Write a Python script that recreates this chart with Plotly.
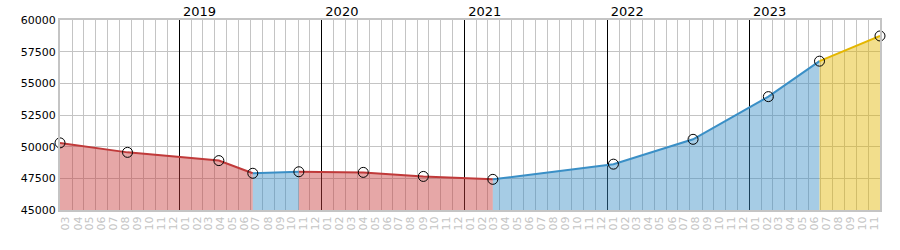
import plotly.graph_objects as go

# Data points (date, value)
dates = ["2018-03-01", "2018-08-21", "2019-04-12", "2019-07-08", "2019-11-03",
         "2020-04-16", "2020-09-17", "2021-03-14", "2022-01-17", "2022-08-09",
         "2023-02-18", "2023-06-29", "2023-12-01"]
values = [50300, 49550, 48900, 47900, 48020, 47970, 47650, 47420, 48620, 50580,
          53950, 56750, 58740]

# Segments: (start index, end index, colour key)
segments = [(0, 3, "red"), (3, 4, "blue"), (4, 7, "red"), (7, 11, "blue"), (11, 12, "yellow")]
years = [2019, 2020, 2021, 2022, 2023]
y_ticks = [45000, 47500, 50000, 52500, 55000, 57500, 60000]

# Month tick labels, 2018-03 .. 2023-11 (placed mid-month)
month_ticks = []
for yr in range(2018, 2024):
    for mo in range(1, 13):
        if (yr, mo) < (2018, 3) or (yr, mo) > (2023, 11):
            continue
        month_ticks.append((f"{yr}-{mo:02d}-16", f"{mo:02d}"))
tick_vals = [t[0] for t in month_ticks]
tick_text = [t[1] for t in month_ticks]

x_range = ["2018-03-01", "2023-12-01"]

line_col = {"red": "rgb(192,58,58)", "blue": "rgb(58,143,198)", "yellow": "rgb(228,182,0)"}
fill_col = {"red": "rgba(200,60,60,0.45)", "blue": "rgba(58,143,198,0.45)",
            "yellow": "rgba(226,182,0,0.45)"}

fig = go.Figure()
for s, e, c in segments:
    fig.add_trace(go.Scatter(
        x=dates[s:e + 1], y=values[s:e + 1], mode="lines",
        line=dict(color=line_col[c], width=2),
        fill="tozeroy", fillcolor=fill_col[c],
        hoverinfo="skip", showlegend=False))

fig.add_trace(go.Scatter(
    x=dates, y=values, mode="markers", cliponaxis=False, xaxis="x2",
    marker=dict(symbol="circle", size=10, color="rgba(255,255,255,0)",
                line=dict(color="black", width=1)),
    showlegend=False))

fig.update_layout(
    xaxis=dict(
        type="date", range=x_range, automargin=False,
        tickmode="array", tickvals=tick_vals, ticktext=tick_text,
        tickangle=-90, tickfont=dict(size=11, color="#c4c4c4", family="DejaVu Sans"),
        showgrid=False,
        minor=dict(dtick="M1", tick0="2018-03-01", showgrid=True, gridcolor="#c4c4c4",
                   gridwidth=1, ticks=""),
        showline=True, linecolor="#c4c4c4", linewidth=2, mirror=True, ticks="",
        zeroline=False),
    xaxis2=dict(
        type="date", range=x_range, overlaying="x", side="top", matches="x",
        automargin=False,
        tickmode="array", tickvals=[f"{yr}-01-01" for yr in years],
        ticktext=[str(yr) for yr in years],
        tickfont=dict(size=13, color="black", family="DejaVu Sans"),
        ticklabelshift=20, ticklabelstandoff=0,
        showgrid=True, gridcolor="black", gridwidth=1,
        showline=False, ticks="", zeroline=False),
    yaxis=dict(
        range=[45000, 60000], tickvals=y_ticks, tickformat="d", automargin=False,
        tickfont=dict(size=11, color="black", family="DejaVu Sans"),
        showgrid=True, gridcolor="#c4c4c4", gridwidth=1,
        showline=True, linecolor="#c4c4c4", linewidth=2, mirror=True, ticks="",
        zeroline=False),
    width=900, height=250, margin=dict(l=60, r=20, t=20, b=40),
    plot_bgcolor="white", paper_bgcolor="white",
    font=dict(family="DejaVu Sans"))

fig.write_html("out.html")
